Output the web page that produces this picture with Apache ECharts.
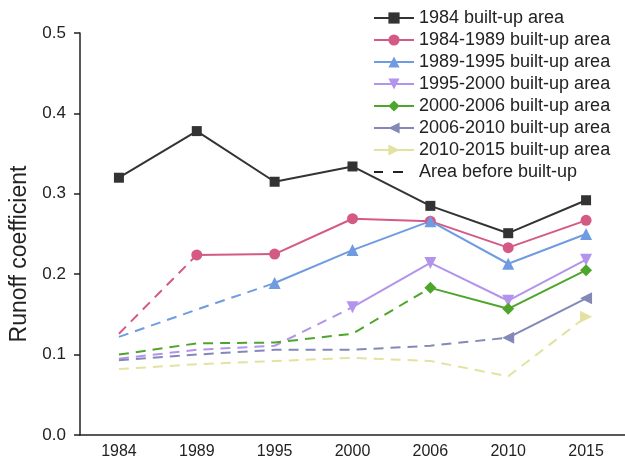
<!DOCTYPE html>
<html><head><meta charset="utf-8">
<script src="https://cdn.jsdelivr.net/npm/echarts@6/dist/echarts.min.js"></script>
<style>html,body{margin:0;padding:0;background:#fff}#c{width:625px;height:469px}</style>
</head><body><div id="c"></div>
<script>
const years = ['1984','1989','1995','2000','2006','2010','2015'];
const seriesNames = ['1984 built-up area','1984-1989 built-up area','1989-1995 built-up area','1995-2000 built-up area','2000-2006 built-up area','2006-2010 built-up area','2010-2015 built-up area'];
// index where the built-up (solid) part begins; earlier values are "area before built-up"
const builtStart = [0, 1, 2, 3, 4, 5, 6];
const v1984 = [0.320, 0.378, 0.315, 0.334, 0.285, 0.251, 0.292];
const v1984_1989 = [0.126, 0.224, 0.225, 0.269, 0.266, 0.233, 0.267];
const v1989_1995 = [0.122, 0.156, 0.189, 0.230, 0.266, 0.213, 0.250];
const v1995_2000 = [0.095, 0.106, 0.111, 0.159, 0.214, 0.167, 0.218];
const v2000_2006 = [0.100, 0.114, 0.115, 0.126, 0.183, 0.157, 0.205];
const v2006_2010 = [0.093, 0.100, 0.106, 0.106, 0.111, 0.121, 0.170];
const v2010_2015 = [0.082, 0.088, 0.092, 0.096, 0.092, 0.073, 0.147];
const yTicks = ['0.0','0.1','0.2','0.3','0.4','0.5'];
const beforeName = 'Area before built-up';

const values = [v1984, v1984_1989, v1989_1995, v1995_2000, v2000_2006, v2006_2010, v2010_2015];
const colors = ['#333333','#d45a85','#6f9be3','#b394ec','#4ea52b','#8388b9','#e3e2a0'];
const symbols = ['rect','circle','triangle','path://M0,0L10,0L5,9Z','diamond','path://M9,0L9,10L0,5Z','path://M0,0L0,10L9,5Z'];
const symSizes = [10, 11, 12, 12, 12, 12, 12];

const series = [];
values.forEach((vals, i) => {
  const s = builtStart[i];
  const solid = vals.map((v, j) => j >= s ? v : null);
  const dashed = vals.map((v, j) => j <= s ? v : null);
  if (s > 0) {
    series.push({
      name: seriesNames[i] + ' (before)', type: 'line', data: dashed, symbol: 'none',
      lineStyle: { color: colors[i], width: 2, type: [10, 7] }, itemStyle: { color: colors[i] },
      silent: true, z: 1
    });
  }
  series.push({
    name: seriesNames[i], type: 'line', data: solid, symbol: symbols[i], symbolSize: symSizes[i],
    showAllSymbol: true,
    lineStyle: { color: colors[i], width: 2 }, itemStyle: { color: colors[i] }, z: 3
  });
});
series.push({
  name: beforeName, type: 'line', data: [], symbol: 'none',
  lineStyle: { color: '#222', width: 2, type: [10, 10] }, itemStyle: { color: '#222' }
});

const dashIcon = 'path://M0,0H0.01V0.01H0Z M0,6H9V8H0Z M19,6H29V8H19Z M40,14H40.01V14.01H40Z';
const legendData = seriesNames.map(n => ({ name: n }));
legendData.push({ name: beforeName, icon: dashIcon, itemStyle: { color: '#222' } });

const chart = echarts.init(document.getElementById('c'), null, { renderer: 'canvas' });
chart.setOption({
  animation: false,
  backgroundColor: '#fff',
  textStyle: { fontFamily: 'Liberation Sans, Arial, sans-serif' },
  grid: { left: 80, top: 33, bottom: 34, right: -8, containLabel: false },
  legend: {
    orient: 'vertical', left: 368, top: 4, itemWidth: 40, itemHeight: 14, itemGap: 4,
    data: legendData,
    textStyle: { fontSize: 18, lineHeight: 18, color: '#222', fontFamily: 'Liberation Sans, Arial, sans-serif' }
  },
  xAxis: {
    type: 'category', data: years, boundaryGap: true,
    axisLine: { lineStyle: { color: '#222', width: 1.5 } },
    axisTick: { alignWithLabel: true, length: 6, lineStyle: { color: '#222', width: 1.5 } },
    axisLabel: { fontSize: 16, color: '#222', margin: 9 }
  },
  yAxis: {
    type: 'value', min: 0, max: 0.5, interval: 0.1,
    name: 'Runoff coefficient', nameLocation: 'middle', nameGap: 46, nameRotate: 90,
    nameTextStyle: { fontSize: 23, color: '#222', padding: [0, 40, 0, 0] },
    splitLine: { show: false },
    axisLine: { show: true, lineStyle: { color: '#222', width: 1.5 } },
    axisTick: { show: true, length: 6, lineStyle: { color: '#222', width: 1.5 } },
    axisLabel: { fontSize: 17, color: '#222', margin: 14, formatter: (v) => yTicks[Math.round(v * 10)] }
  },
  series: series
});
</script></body></html>
